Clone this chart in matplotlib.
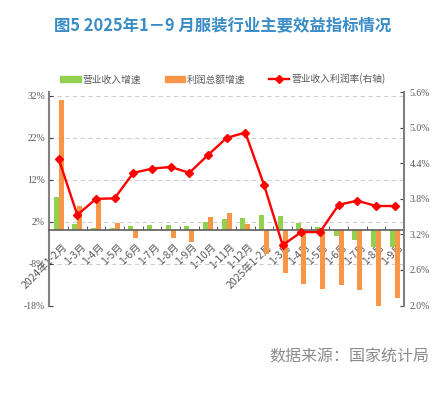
import numpy as np
import matplotlib
matplotlib.use('Agg')
import matplotlib.pyplot as plt
import matplotlib.transforms as mtransforms
from matplotlib.patches import Patch
from matplotlib.lines import Line2D

plt.rcParams['font.family'] = ['Noto Sans CJK SC', 'DejaVu Sans']
plt.rcParams['axes.unicode_minus'] = False

# 数据
categories = ['2024年1-2月', '1-3月', '1-4月', '1-5月', '1-6月', '1-7月', '1-8月',
              '1-9月', '1-10月', '1-11月', '1-12月', '2025年1-2月', '1-3月', '1-4月',
              '1-5月', '1-6月', '1-7月', '1-8月', '1-9月']
revenue_growth = [7.9, 1.4, 0.5, 0.6, 1.0, 1.3, 1.2, 1.0, 2.0, 2.6, 2.8,
                  3.5, 3.3, 1.6, 0.7, -1.5, -2.4, -4.0, -4.0]
profit_growth = [31.1, 5.7, 7.5, 1.7, -1.9, -0.2, -1.9, -2.9, 3.2, 4.0, 1.4,
                 -5.8, -10.2, -12.9, -14.0, -13.0, -14.3, -18.1, -16.3]
profit_margin = [4.48, 3.53, 3.80, 3.81, 4.24, 4.31, 4.34, 4.24, 4.54, 4.83, 4.92,
                 4.04, 3.02, 3.24, 3.24, 3.70, 3.77, 3.68, 3.68]
left_ticks = [-18, -8, 2, 12, 22, 32]
right_ticks = [2.0, 2.6, 3.2, 3.8, 4.4, 5.0, 5.6]

green = '#92D050'
orange = '#F79646'
red = '#FF0000'
gray = '#595959'

fig = plt.figure(figsize=(4.46, 3.99), dpi=100)
ax = fig.add_axes([0.1105, 0.2343, 0.7953, 0.5344])
ax2 = ax.twinx()

x = np.arange(len(categories))
w = 0.27
ax.bar(x - w / 2, revenue_growth, w, color=green, zorder=3)
ax.bar(x + w / 2, profit_growth, w, color=orange, zorder=3)

ax.set_xlim(-0.5, len(categories) - 0.5)
ax.set_ylim(-18, 32.88)
ax.set_yticks(left_ticks)
ax.set_yticklabels([f'{t}%' for t in left_ticks], fontsize=7, color=gray,
                   family='Liberation Serif')
for t in left_ticks:
    ax.axhline(t, color='#d0d0d0', lw=0.8, ls=(0, (4, 3)), zorder=1)

ax.spines['top'].set_visible(False)
ax.spines['right'].set_visible(False)
ax.spines['left'].set_color('#808080')
ax.spines['left'].set_linewidth(1.5)
ax.spines['bottom'].set_position(('data', 0))
ax.spines['bottom'].set_color('#606060')
ax.spines['bottom'].set_linewidth(1.2)
ax.spines['bottom'].set_zorder(4)

ax.set_xticks(x)
ax.set_xticklabels(categories, rotation=45, ha='right', rotation_mode='anchor',
                   fontsize=7.5, color=gray)
ax.tick_params(axis='x', which='major', length=0, pad=8)
shift = mtransforms.ScaledTranslation(3 / 100, 0, fig.dpi_scale_trans)
for lab in ax.get_xticklabels():
    lab.set_transform(lab.get_transform() + shift)
ax.set_xticks(x[:-1] + 0.5, minor=True)
ax.tick_params(axis='x', which='minor', length=3, direction='in', color='#404040')
ax.tick_params(axis='y', length=3, direction='in', color='#404040', pad=3)

# 右轴：利润率
ax2.plot(x, profit_margin, color=red, lw=1.7, marker='D', markersize=3.6, zorder=5)
ax2.set_ylim(2.0, 5.6)
ax2.set_yticks(right_ticks)
ax2.set_yticklabels([f'{t:.1f}%' for t in right_ticks], fontsize=7, color=gray,
                    family='Liberation Serif')
ax2.tick_params(axis='y', length=3, direction='in', color='#404040', pad=4)
for s in ['top', 'left', 'bottom']:
    ax2.spines[s].set_visible(False)
ax2.spines['right'].set_color('#808080')
ax2.spines['right'].set_linewidth(1.5)

# 图例
handles = [Patch(color=green), Patch(color=orange),
           Line2D([], [], color=red, lw=1.7, marker='D', markersize=3.6)]
labels = ['营业收入增速', '利润总额增速', '营业收入利润率(右轴)']
fig.legend(handles, labels, loc='center', bbox_to_anchor=(0.5, 1 - 79 / 399), ncol=3,
           frameon=False, fontsize=7, labelcolor=gray, handlelength=2.1,
           handleheight=0.5, handletextpad=0.2, columnspacing=2.4)

fig.text(0.5, 1 - 25 / 399, '图5 2025年1－9 月服装行业主要效益指标情况',
         ha='center', va='center', fontsize=11.8, fontweight='semibold', color='#3A8CC6')
fig.text(0.963, 1 - 357 / 399, '数据来源：国家统计局', ha='right', va='center',
         fontsize=11.5, color='#8c8c8c')

fig.savefig('out.png', dpi=100)
